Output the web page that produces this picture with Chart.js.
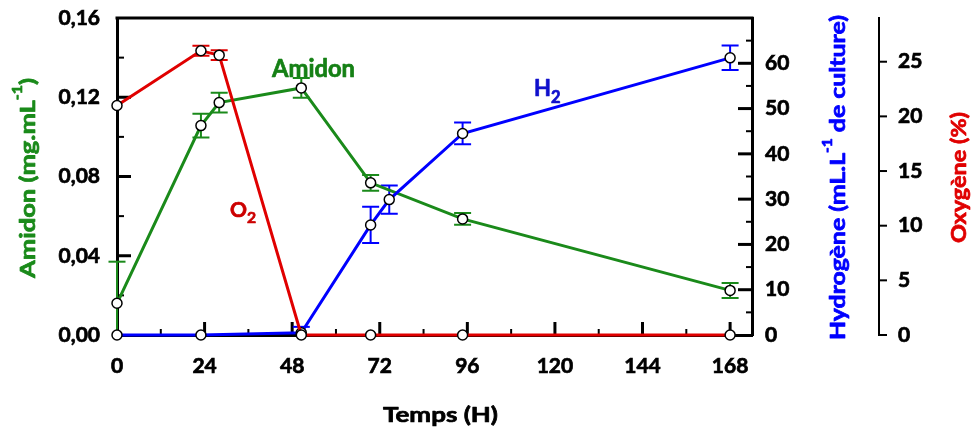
<!DOCTYPE html>
<html><head><meta charset="utf-8">
<script src="https://cdn.jsdelivr.net/npm/chart.js@4/dist/chart.umd.min.js"></script>
<style>html,body{margin:0;padding:0;background:#fff}#wrap{width:972px;height:429px}</style>
</head><body><div id="wrap"><canvas id="c" width="972" height="429"></canvas></div>
<script>
// ---- data ----
const amidonTime = [0, 23, 28, 50.5, 69.5, 94.7, 168];
const amidonVal  = [0.016, 0.1057, 0.1173, 0.1247, 0.0768, 0.0586, 0.0225];
const amidonErr  = [0.021, 0.006, 0.005, 0.005, 0.004, 0.003, 0.0038];

const h2Time = [0, 23, 50.5, 69.5, 74.6, 94.7, 168];
const h2Val  = [0, 0, 0.5, 24.3, 29.9, 44.5, 61.2];
const h2Err  = [0, 0, 1.3, 4.0, 3.1, 2.4, 2.7];

const o2Time = [0, 23, 28, 50.5, 69.5, 94.7, 168];
const o2Val  = [21.0, 26.0, 25.6, 0, 0, 0, 0];
const o2Err  = [0, 0.45, 0.45, 0, 0, 0, 0];

const xTicks      = [0, 24, 48, 72, 96, 120, 144, 168];
const xMinor      = [12, 36, 60, 84, 108, 132, 156];
const amidonTicks = [0, 0.04, 0.08, 0.12, 0.16];
const amidonMinor = [0.02, 0.06, 0.10, 0.14];
const h2Ticks     = [0, 10, 20, 30, 40, 50, 60];
const h2Minor     = [5, 15, 25, 35, 45, 55, 65];
const o2Ticks     = [0, 5, 10, 15, 20, 25];

const GREEN = '#1a8a1a', RED = '#e00000', BLUE = '#0000ff';
const FONT = 'Lato';
const W = 'bold';
const STROKE = 0.7;

function pts(t, v){ return t.map((x,i)=>({x:x, y:v[i]})); }
function setTicks(list){ return s => { s.ticks = list.map(v=>({value:v})); }; }
function fitV(w){ return s => { s.width = w; s.paddingTop = 0; s.paddingBottom = 0; }; }

const tickFont = {family: FONT, weight: W, size: 21};

function drawRich(ctx, parts, o){
  const size = o.size;
  let w = 0;
  const m = parts.map(p=>{
    const fs = (p.sup||p.sub) ? size*(p.sub?0.75:0.62) : size;
    ctx.font = W + ' ' + fs + 'px ' + FONT;
    const pw = ctx.measureText(p.t).width;
    w += pw;
    return {p, fs, pw};
  });
  const sx = o.len ? o.len / w : 1;
  ctx.save();
  ctx.translate(o.x, o.y);
  if (o.rot) ctx.rotate(o.rot);
  ctx.scale(sx, 1);
  ctx.fillStyle = o.color;
  ctx.strokeStyle = o.color;
  ctx.lineWidth = STROKE;
  ctx.lineJoin = 'round';
  ctx.textBaseline = 'alphabetic';
  ctx.textAlign = 'left';
  let cx = o.align === 'left' ? 0 : -w/2;
  m.forEach(({p, fs, pw})=>{
    ctx.font = W + ' ' + fs + 'px ' + FONT;
    const dy = p.sup ? -size*0.62 : (p.sub ? size*0.3 : 0);
    ctx.fillText(p.t, cx, dy);
    ctx.strokeText(p.t, cx, dy);
    cx += pw;
  });
  ctx.restore();
}

const errorBars = {
  id: 'errorBars',
  beforeDatasetsDraw(chart){
    const ctx = chart.ctx;
    const xs = chart.scales.x;
    const a = chart.chartArea;
    ctx.save();
    ctx.strokeStyle = '#000';
    ctx.lineWidth = 3;
    ctx.beginPath(); ctx.moveTo(a.left-1.5, a.top); ctx.lineTo(a.right+1.5, a.top); ctx.stroke();
    const yA = chart.scales.yA, yH = chart.scales.yH, yO = chart.scales.yO;
    function hline(x1,y,x2,lw){ ctx.lineWidth=lw; ctx.beginPath(); ctx.moveTo(x1,y); ctx.lineTo(x2,y); ctx.stroke(); }
    function vline(x,y1,y2,lw){ ctx.lineWidth=lw; ctx.beginPath(); ctx.moveTo(x,y1); ctx.lineTo(x,y2); ctx.stroke(); }
    xTicks.forEach(v=>{ const x=xs.getPixelForValue(v); if(v>0) vline(x,a.bottom,a.bottom-13,3); });
    xMinor.forEach(v=>{ const x=xs.getPixelForValue(v); vline(x,a.bottom,a.bottom-6,2); });
    amidonTicks.forEach(v=>{ const y=yA.getPixelForValue(v); if(v>0&&v<0.16) hline(a.left,y,a.left+14,3); });
    amidonMinor.forEach(v=>{ const y=yA.getPixelForValue(v); hline(a.left,y,a.left+7,2); });
    h2Ticks.forEach(v=>{ const y=yH.getPixelForValue(v); if(v>0) hline(a.right,y,a.right-14,3); });
    h2Minor.forEach(v=>{ const y=yH.getPixelForValue(v); hline(a.right,y,a.right-6,2); });
    o2Ticks.forEach(v=>{ const y=yO.getPixelForValue(v); hline(yO.left,y,yO.left+8,2); });
    chart.data.datasets.forEach((ds)=>{
      const ys = chart.scales[ds.yAxisID];
      ctx.strokeStyle = ds.borderColor;
      ctx.lineWidth = 2;
      ds.data.forEach((p, i)=>{
        const e = ds.err[i];
        if (!e) return;
        const x = xs.getPixelForValue(p.x);
        const lo = Math.max(ys.min, p.y - e), hi = p.y + e;
        const y1 = ys.getPixelForValue(lo), y2 = ys.getPixelForValue(hi);
        ctx.beginPath(); ctx.moveTo(x, y1); ctx.lineTo(x, y2); ctx.stroke();
        ctx.beginPath(); ctx.moveTo(x-8.5, y2); ctx.lineTo(x+8.5, y2);
        if (p.y - e >= ys.min) { ctx.moveTo(x-8.5, y1); ctx.lineTo(x+8.5, y1); }
        ctx.stroke();
      });
    });
    ctx.restore();
  },
  afterDraw(chart){
    const ctx = chart.ctx;
    drawRich(ctx, [{t:'Amidon (mg.mL'},{t:'-1',sup:1},{t:')'}], {x:35, y:178, rot:-Math.PI/2, size:21, color:GREEN, len:200});
    drawRich(ctx, [{t:'Hydrogène (mL.L'},{t:'-1',sup:1},{t:' de culture)'}], {x:845, y:177.5, rot:-Math.PI/2, size:21, color:BLUE, len:325});
    drawRich(ctx, [{t:'Oxygène (%)'}], {x:966, y:177.5, rot:-Math.PI/2, size:21, color:RED, len:131});
    drawRich(ctx, [{t:'Temps (H)'}], {x:440.5, y:422, size:21, color:'#000', len:115});
    drawRich(ctx, [{t:'Amidon'}], {x:313.5, y:77, size:24, color:'#158015', len:83});
    drawRich(ctx, [{t:'O'},{t:'2',sub:1}], {x:230, y:217, size:21, color:'#cc0000', align:'left'});
    drawRich(ctx, [{t:'H'},{t:'2',sub:1}], {x:534, y:96, size:22, color:'#1010cc', align:'left'});
  }
};

const common = {
  borderWidth: 3, pointRadius: 5, pointHoverRadius: 5,
  pointBackgroundColor: '#fff', pointBorderColor: '#000', pointBorderWidth: 1.5,
  tension: 0, clip: false, fill: false
};

const tickBase = {font: tickFont, color: '#000', autoSkip: false, textStrokeColor: '#000', textStrokeWidth: STROKE};

new Chart(document.getElementById('c'), {
  type: 'line',
  data: {
    datasets: [
      Object.assign({label:'O2', data: pts(o2Time, o2Val), err: o2Err, yAxisID:'yO', borderColor: RED}, common),
      Object.assign({label:'H2', data: pts(h2Time, h2Val), err: h2Err, yAxisID:'yH', borderColor: BLUE}, common),
      Object.assign({label:'Amidon', data: pts(amidonTime, amidonVal), err: amidonErr, yAxisID:'yA', borderColor: GREEN}, common)
    ]
  },
  options: {
    responsive: false, animation: false, devicePixelRatio: 1,
    layout: {padding: {top: 18, left: 0, right: 0, bottom: 0}},
    plugins: {legend: {display: false}, tooltip: {enabled: false}},
    events: [],
    scales: {
      x: {
        type: 'linear', position: 'bottom', min: 0, max: 174,
        grid: {display: false, drawTicks: false},
        border: {display: true, color: '#000', width: 3},
        ticks: Object.assign({padding: 19, maxRotation: 0, callback: v => String(v)}, tickBase),
        afterBuildTicks: setTicks(xTicks),
        afterFit: s => { s.height = 94; s.paddingLeft = 0; s.paddingRight = 0; }
      },
      yA: {
        type: 'linear', position: 'left', min: 0, max: 0.16,
        grid: {display: false, drawTicks: false},
        border: {display: true, color: '#000', width: 3},
        ticks: Object.assign({padding: 17, callback: v => v.toFixed(2).replace('.', ',')}, tickBase),
        afterBuildTicks: setTicks(amidonTicks),
        afterFit: fitV(117)
      },
      yH: {
        type: 'linear', position: 'right', min: 0, max: 70,
        grid: {display: false, drawTicks: false},
        border: {display: true, color: '#000', width: 3},
        ticks: Object.assign({padding: 13, callback: v => String(v)}, tickBase),
        afterBuildTicks: setTicks(h2Ticks),
        afterFit: fitV(127)
      },
      yO: {
        type: 'linear', position: 'right', min: 0, max: 29,
        grid: {display: false, drawTicks: false},
        border: {display: true, color: '#000', width: 2},
        ticks: Object.assign({padding: 19, callback: v => String(v)}, tickBase),
        afterBuildTicks: setTicks(o2Ticks),
        afterFit: fitV(93)
      }
    }
  },
  plugins: [errorBars]
});
</script>
</body></html>
